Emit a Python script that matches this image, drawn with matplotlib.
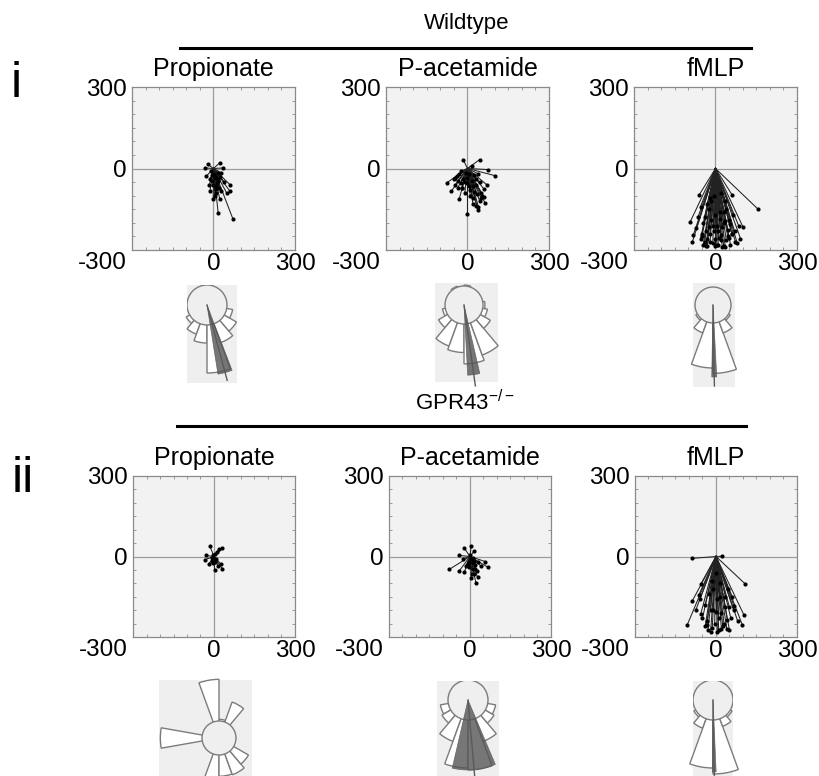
import matplotlib
matplotlib.use("Agg")
from matplotlib import pyplot as plt
from matplotlib.patches import Wedge, Circle
from matplotlib.lines import Line2D
from matplotlib.ticker import MultipleLocator
import numpy as np

plt.rcParams['font.family'] = ['Liberation Sans', 'DejaVu Sans']
plt.rcParams['mathtext.default'] = 'regular'

W, H = 820, 776

# --- track end points (um), one track per point, all start at the origin ---
wt_prop_x = [-20, 23, 29, 60, 48, -1, 17, 72, -26, 11, 5, 29, -7, 35, -32, 60, -13, 23, 10, -15, 18, 2, -10, 40, 8,
             5, 12, -5, 20, 15, -12, 25, 0, 8, 18]
wt_prop_y = [15, 21, -16, -59, -89, -113, -162, -187, -28, -65, -101, -83, -46, 2, 2, -83, -83, -113, -30, -60, -40, -20, -10, -50, -75,
             -35, -55, -25, -70, -45, -40, -30, -60, -90, -15]

wt_pac_x = [45, 100, -77, -59, -31, 0, 39, 64, 51, 70, -40, 21, -16, 76, 33, -50, -20, 10, 30, 55, -35, 5, 15, -10, 45, 60, -25, 25, 0, -45, 20, 40,
            -30, -15, 0, 15, 30, 45, -45, -20, 10, 35, 50, -5, 25, -35, 5, 40, -10, 20, -25, 60]
wt_pac_y = [33, -26, -53, -83, -114, -166, -153, -126, -89, -59, -28, -65, 33, -4, -138, -40, -70, -100, -40, -100, -70, -20, 10, -50, -120, -75, -10, -85, -35, -60, -130, -20,
            -20, -40, -55, -45, -60, -50, -35, -70, -80, -95, -110, -15, -25, -45, -65, -140, -90, -110, -55, -105]

wt_fmlp_x = [156, -94, -82, -45, 36, 92, 102, 61, -60, 5, -20, 73, -30, 20, 45, -70, -50, 0, 10, -10, 30, -40, 60, 80, -85, -25, 15, 50, -15, 35, 70, -55, 25, 40, -5, 85, -35, 55, 12, -65,
             -50, -40, -30, -20, -10, 0, 10, 20, 30, 40, 50, 60, -45, -35, -25, -15, -5, 5, 15, 25, 35, 45, 55, 65, -55, -30, 0, 30, -20, 20]
wt_fmlp_y = [-149, -198, -246, -280, -289, -258, -217, -97, -97, -280, -270, -270, -260, -265, -250, -220, -240, -285, -230, -210, -200, -180, -240, -275, -270, -150, -160, -190, -120, -120, -230, -260, -290, -150, -100, -210, -285, -280, -255, -180,
             -250, -270, -285, -240, -275, -260, -280, -245, -285, -265, -255, -240, -200, -230, -215, -190, -230, -210, -185, -215, -195, -225, -205, -170, -140, -130, -170, -160, -110, -90]

ko_prop_x = [-15, 31, -31, -35, 25, 31, 2, -19, 10, 19, -6, -8, 8, 15, 0, -5, 5, 3, -3]
ko_prop_y = [38, 31, 4, -12, -28, -46, -52, -28, 16, 29, -15, -5, -8, -35, -10, 5, -20, 10, -25]

ko_pac_x = [-77, -40, -21, 22, 28, 16, 41, 66, 57, 4, -21, -40, -27, 10, -9, 15, -5, 30, 20, 5,
            5, 10, 15, -5, 0, 20, 25, -15, 8, 12]
ko_pac_y = [-48, -54, -58, -98, -77, -64, -36, -40, -19, 38, 31, 4, -9, -46, -27, 20, -40, -20, -30, -80,
            -10, -25, -15, -20, 5, -45, -55, -35, -65, -5]

ko_fmlp_x = [-88, 24, 108, -107, -88, -57, -32, 5, 30, 98, 104, 67, -63, -57, -14, 42, 20, -20, 60, -40, 10, 35, -10, 80, 50, -75, 15, -30, 0, 45,
             -50, -35, -20, -5, 10, 25, 40, 55, -40, -10, 20, 50, -60, -25, 5, 35, 65, -15, 15, 0]
ko_fmlp_y = [-7, 1, -102, -256, -166, -216, -241, -281, -253, -256, -219, -185, -142, -104, -266, -235, -270, -200, -150, -260, -230, -190, -120, -240, -275, -200, -150, -275, -205, -120,
             -230, -255, -280, -250, -275, -260, -270, -230, -180, -200, -210, -190, -160, -140, -160, -150, -200, -90, -100, -60]

# --- rose plots: bin start angle (deg, 20 deg bins), relative bin length ---
wt_prop_bins = [210, 230, 250, 270, 290, 310, 330]
wt_prop_len = [1.2, 1.55, 1.9, 3.4, 2.0, 1.7, 1.3]
wt_pac_bins = [70, 110, 190, 210, 230, 250, 270, 290, 310, 330, 350]
wt_pac_len = [1.05, 1.05, 1.15, 1.55, 2.3, 2.5, 3.1, 2.8, 1.6, 1.25, 1.1]
wt_fmlp_bins = [210, 230, 250, 270, 290, 310]
wt_fmlp_len = [1.1, 1.65, 3.5, 3.8, 1.65, 1.1]
ko_prop_bins = [50, 70, 90, 170, 250, 270, 290, 310]
ko_prop_len = [2.25, 1.1, 3.45, 3.45, 3.0, 2.25, 2.3, 2.0]
ko_pac_bins = [190, 210, 230, 250, 270, 290, 310, 330]
ko_pac_len = [1.4, 1.5, 2.2, 3.4, 3.5, 2.2, 1.5, 1.4]
ko_fmlp_bins = [210, 230, 250, 270, 290, 310]
ko_fmlp_len = [1.1, 1.5, 3.4, 3.7, 1.4, 1.1]

# mean direction (deg), confidence half width (deg), sector length, mean line length
wt_prop_mean = [285, 6, 3.5, 3.9]
wt_pac_mean = [278, 5, 3.7, 4.3]
wt_fmlp_mean = [271, 2, 4.0, 4.5]
ko_pac_mean = [275, 18, 3.5, 4.6]
ko_fmlp_mean = [271, 1.5, 3.6, 4.6]


def px_axes(fig, x0, y0, x1, y1):
    return fig.add_axes([x0 / W, 1 - y1 / H, (x1 - x0) / W, (y1 - y0) / H])


def track_panel(fig, box, title, xs, ys):
    ax = px_axes(fig, *box)
    ax.set_facecolor('#f2f2f2')
    ax.axhline(0, color='#9c9c9c', lw=0.9, zorder=1)
    ax.axvline(0, color='#9c9c9c', lw=0.9, zorder=1)
    for x, y in zip(xs, ys):
        ax.plot([0, x], [0, y], color='#222222', lw=0.75, zorder=2)
    ax.scatter(xs, ys, s=9, color='black', zorder=3, linewidths=0)
    ax.set_xlim(-300, 300)
    ax.set_ylim(-300, 300)
    ax.set_xticks([0, 300])
    ax.set_yticks([0, 300])
    ax.xaxis.set_minor_locator(MultipleLocator(50))
    ax.yaxis.set_minor_locator(MultipleLocator(50))
    ax.tick_params(which='major', length=0, labelsize=17.5)
    ax.tick_params(axis='x', which='major', pad=2)
    ax.tick_params(axis='y', which='major', pad=4)
    ax.tick_params(which='minor', direction='in', length=2.5, width=0.6,
                   color='#8a8a8a', top=True, right=True)
    for s in ax.spines.values():
        s.set_color('#8a8a8a')
        s.set_linewidth(0.9)
        s.set_linestyle((0, (3, 1)))
    ax.annotate('-300', xy=(0, 0), xycoords='axes fraction', xytext=(-3.5, -1.5),
                textcoords='offset points', ha='right', va='top', fontsize=17.5)
    ax.set_title(title, fontsize=18, pad=8)
    return ax


def rose_panel(fig, box, center, r_px, bins, lens, mean=None):
    x0, y0, x1, y1 = box
    cx, cy = center
    ax = px_axes(fig, x0, y0, x1, y1)
    ax.set_xlim((x0 - cx) / r_px, (x1 - cx) / r_px)
    ax.set_ylim((cy - y1) / r_px, (cy - y0) / r_px)
    ax.set_facecolor('#efefef')
    ax.set_xticks([])
    ax.set_yticks([])
    for s in ax.spines.values():
        s.set_visible(False)
    for t, r in zip(bins, lens):
        ax.add_patch(Wedge((0, 0), r, t, t + 20, facecolor='white',
                           edgecolor='#7c7c7c', lw=1.0, clip_on=False))
    ax.add_patch(Circle((0, 0), 1, facecolor='#efefef', edgecolor='#7c7c7c', lw=1.0))
    if mean is not None:
        ang, half, slen, llen = mean
        ax.add_patch(Wedge((0, 0), slen, ang - half, ang + half, facecolor='#555555',
                           edgecolor='#555555', lw=0.5, alpha=0.8, clip_on=False))
        a = np.deg2rad(ang)
        ax.plot([0, llen * np.cos(a)], [0, llen * np.sin(a)], color='#5a5a5a',
                lw=1.0, clip_on=False)
    return ax


fig = plt.figure(figsize=(W / 100, H / 100), dpi=100)

# row i: wildtype
track_panel(fig, (132, 87, 295, 250), 'Propionate', wt_prop_x, wt_prop_y)
track_panel(fig, (386, 87, 549, 250), 'P-acetamide', wt_pac_x, wt_pac_y)
track_panel(fig, (634, 87, 797, 250), 'fMLP', wt_fmlp_x, wt_fmlp_y)

rose_panel(fig, (187, 285, 237, 383), (207, 305), 20, wt_prop_bins, wt_prop_len, wt_prop_mean)
rose_panel(fig, (435, 283, 498, 382), (464, 305), 19, wt_pac_bins, wt_pac_len, wt_pac_mean)
rose_panel(fig, (693, 283, 735, 387), (713, 305), 18, wt_fmlp_bins, wt_fmlp_len, wt_fmlp_mean)

# row ii: GPR43 knockout
track_panel(fig, (133, 476, 295, 637), 'Propionate', ko_prop_x, ko_prop_y)
track_panel(fig, (389, 476, 551, 637), 'P-acetamide', ko_pac_x, ko_pac_y)
track_panel(fig, (635, 476, 797, 637), 'fMLP', ko_fmlp_x, ko_fmlp_y)

rose_panel(fig, (159, 680, 252, 776), (219, 738), 17, ko_prop_bins, ko_prop_len)
rose_panel(fig, (437, 681, 499, 776), (468, 700), 20, ko_pac_bins, ko_pac_len, ko_pac_mean)
rose_panel(fig, (693, 681, 733, 776), (713, 700), 20, ko_fmlp_bins, ko_fmlp_len, ko_fmlp_mean)

# group headers
fig.text(467 / W, 1 - 24 / H, 'Wildtype', ha='center', va='center', fontsize=16)
fig.add_artist(Line2D([180 / W, 751 / W], [1 - 48 / H] * 2, color='black', lw=2.2))
fig.text(465 / W, 1 - 403 / H, 'GPR43$^{-/-}$', ha='center', va='center', fontsize=16)
fig.add_artist(Line2D([177 / W, 746 / W], [1 - 426 / H] * 2, color='black', lw=2.2))

fig.text(16 / W, 1 - 97 / H, 'i', ha='center', va='baseline', fontsize=36)
fig.text(23 / W, 1 - 492 / H, 'ii', ha='center', va='baseline', fontsize=36)

fig.savefig('out.png', dpi=100, facecolor='white')
